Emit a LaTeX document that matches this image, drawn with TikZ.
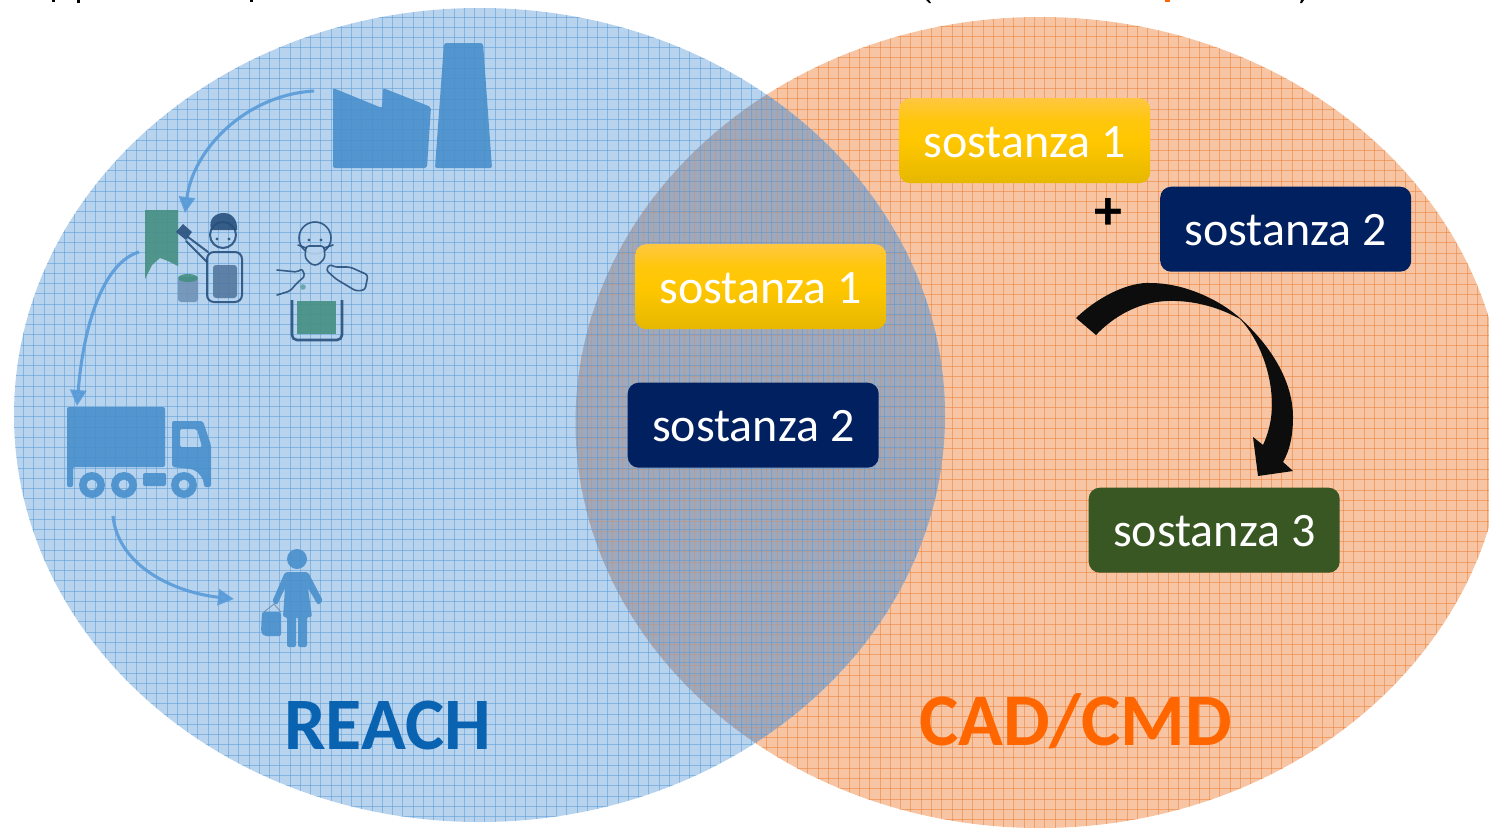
\documentclass[tikz,border=0pt]{standalone}
\usepackage{fontspec}
\setmainfont{Carlito}
\usetikzlibrary{arrows.meta}
\definecolor{bluefill}{RGB}{183,211,238}
\definecolor{orangefill}{RGB}{247,197,163}
\definecolor{overlapfill}{RGB}{160,168,188}
\definecolor{blueline}{RGB}{91,155,213}
\definecolor{orangeline}{RGB}{237,125,49}
\definecolor{iconblue}{RGB}{72,143,204}
\definecolor{arrowblue}{RGB}{88,155,216}
\definecolor{inkblue}{RGB}{40,80,125}
\definecolor{paintgreen}{RGB}{68,143,130}
\definecolor{navybox}{RGB}{0,32,96}
\definecolor{greenbox}{RGB}{56,87,35}
\definecolor{reachblue}{RGB}{10,99,176}
\definecolor{cadorange}{RGB}{255,102,0}
\pgfdeclareverticalshading{yellowbox}{100bp}{rgb(0bp)=(0.90,0.72,0); rgb(25bp)=(0.90,0.72,0); rgb(50bp)=(1,0.78,0); rgb(62bp)=(1,0.78,0.05); rgb(75bp)=(1,0.78,0.25); rgb(100bp)=(1,0.78,0.25)}
\tikzset{
  boxbase/.style={rounded corners=11pt,minimum width=251pt,inner xsep=0pt,inner ysep=0pt,text height=59pt,text depth=26pt,text=white,font=\fontsize{48}{48}\selectfont,anchor=north west},
  yellowsub/.style={boxbase,shading=yellowbox},
  navysub/.style={boxbase,fill=navybox},
  greensub/.style={boxbase,fill=greenbox},
  flow/.style={draw=arrowblue,line width=3.1pt,-{Triangle[width=16pt,length=16pt]}},
  iconfill/.style={fill=iconblue,rounded corners=2pt},
  ink/.style={draw=inkblue,line width=2pt,line cap=round,line join=round},
  thinink/.style={ink,line width=1.6pt},
  title/.style={font=\fontsize{74}{74}\selectfont\bfseries,anchor=base west,inner sep=0pt},
  bluegrid/.style={draw=blueline,line width=1pt,opacity=.55},
  orangegrid/.style={draw=orangeline,line width=1pt,opacity=.5},
  orangegridlow/.style={draw=orangeline,line width=1pt,opacity=.22},
}
\newcommand{\leftshape}{(479.5,415) ellipse [x radius=465.5,y radius=407]}
\newcommand{\rightshape}{(1040,422.5) ellipse [x radius=464.5,y radius=405.5]}
\begin{document}
\begin{tikzpicture}[x=1pt,y=-1pt]
\useasboundingbox (0,0) rectangle (1489,828);
\clip (0,0) rectangle (1489,828);
% base discs
\fill[orangefill] \rightshape;
\fill[bluefill] \leftshape;
% grids
\begin{scope}
  \clip \rightshape;
  \foreach \k in {0,...,90} {\draw[orangegrid] ({571+10.3*\k},0) -- ({571+10.3*\k},828);}
  \foreach \k in {0,...,80} {\draw[orangegrid] (560,{16.3+10.3*\k}) -- (1500,{16.3+10.3*\k});}
\end{scope}
\begin{scope}
  \clip \rightshape;
  \clip \leftshape;
  \fill[overlapfill] \rightshape;
  \foreach \k in {0,...,90} {\draw[orangegridlow] ({571+10.3*\k},0) -- ({571+10.3*\k},828);}
  \foreach \k in {0,...,80} {\draw[orangegridlow] (560,{16.3+10.3*\k}) -- (1500,{16.3+10.3*\k});}
\end{scope}
\begin{scope}
  \clip \leftshape;
  \foreach \k in {0,...,92} {\draw[bluegrid] ({13.25+10.25*\k},0) -- ({13.25+10.25*\k},828);}
  \foreach \k in {0,...,80} {\draw[bluegrid] (0,{6.95+10.25*\k}) -- (960,{6.95+10.25*\k});}
\end{scope}
% icons over the grid, slightly see-through
\begin{scope}[opacity=.9]
\fill[iconfill] (333,88) -- (382,108) -- (383,88) -- (431,107) -- (427,168) -- (333,168) -- cycle;
\fill[iconfill] (444,43) -- (483,43) -- (492,168) -- (435,168) -- cycle;
% truck
\fill[iconfill] (67,407) -- (165,407) -- (165,467) -- (73,467) -- (73,487) -- (67,487) -- cycle;
\fill[iconblue,even odd rule,rounded corners=2pt] (172,421) -- (203,421) -- (211,445) -- (211,487) -- (204,487) arc[start angle=0,end angle=-70,radius=19] -- (172,467) -- cycle (180,429) -- (197,429) -- (202,447) -- (180,447) -- cycle;
\fill[iconfill] (143,473) rectangle (166,486);
\fill[iconblue,even odd rule] (92,485) circle (13) (92,485) circle (5.5);
\fill[iconblue,even odd rule] (124,485) circle (13) (124,485) circle (5.5);
\fill[iconblue,even odd rule] (184,485) circle (13) (184,485) circle (5.5);
% shopper
\fill[iconblue] (297,559) circle (10);
\fill[iconfill] (285,572) -- (308,572) -- (323,601) -- (318,605) -- (308,588) -- (312,617) -- (307,617) -- (307,647) -- (298,647) -- (298,617) -- (296,617) -- (296,647) -- (287,647) -- (287,617) -- (283,617) -- (285,588) -- (277,605) -- (272,602) -- cycle;
\fill[iconfill] (262,612) -- (281,612) -- (281,636) -- (264,636) -- (261,632) -- cycle;
\draw[inkblue!70,line width=.8pt] (264,612) -- (274,604) -- (281,612);
% painter
\fill[paintgreen] (145,210) -- (178,210) -- (178,266) -- (168,261) -- (160,258) -- (152,265) -- (145,279) -- cycle;
\fill[inkblue] (176,232) -- (183,224) -- (192,232) -- (186,240) -- cycle;
\draw[ink] (188,237) -- (208,252);
\draw[ink] (186,241) -- (207,262);
\draw[ink] (223,235) circle (13);
\fill[inkblue] (211,230) .. controls (208,218) and (216,213) .. (224,213) .. controls (232,213) and (238,220) .. (237,230) -- cycle;
\fill[inkblue] (217,239) circle (1.6) (229,239) circle (1.6);
\draw[ink,rounded corners=7pt] (207,252) rectangle (242,302);
\fill[inkblue!70!bluefill,rounded corners=3pt] (213,265) rectangle (237,298);
\fill[inkblue!50!bluefill,rounded corners=3pt] (178,277) rectangle (198,302);
\fill[paintgreen] (188,278) ellipse [x radius=10,y radius=4];
% masked person
\draw[thinink] (315,238) circle (16);
\draw[thinink,fill=bluefill,rounded corners=3pt] (306,246) -- (324,246) -- (325,258) -- (318,265) -- (312,265) -- (305,258) -- cycle;
\draw[thinink] (306,248) -- (298,245) (324,248) -- (333,245);
\fill[inkblue] (309,240) circle (1.6) (321,240) circle (1.6);
\draw[thinink,rounded corners=2pt] (277,270) -- (297,272) -- (302,269) -- (305,276) -- (297,283) -- (290,291) -- (277,295);
\draw[thinink,rounded corners=3pt] (330,264) -- (334,267) -- (350,267) -- (368,275) -- (365,290) -- (356,291) -- (336,279) -- (326,270) -- cycle;
\fill[paintgreen!70!bluefill] (303,287) circle (2.8);
\fill[paintgreen] (297,301) rectangle (336,334);
\draw[ink,line width=2.6pt,line cap=butt,rounded corners=5pt] (292,300) -- (292,340) -- (342,340) -- (342,300);
% flow arrows
\coordinate (factoryOut) at (314,91);
\coordinate (painterIn) at (185,213);
\coordinate (painterOut) at (139,252);
\coordinate (truckIn) at (77,406);
\coordinate (truckOut) at (113,516);
\coordinate (shopperIn) at (234,599);
\draw[flow] (factoryOut) .. controls (245,95) and (193,150) .. (painterIn);
\draw[flow] (painterOut) .. controls (105,262) and (84,320) .. (truckIn);
\draw[flow] (truckOut) .. controls (118,565) and (172,592) .. (shopperIn);
\end{scope}
% black curved arrow
\fill[black!95] (1076,318) .. controls (1100,295) and (1130,282) .. (1150,283) .. controls (1185,283) and (1220,300) .. (1241,319) .. controls (1275,350) and (1293,385) .. (1293,417) .. controls (1293,435) and (1290,450) .. (1283,462) -- (1293,471) -- (1258,476) -- (1253,437) -- (1263,445) .. controls (1270,430) and (1272,415) .. (1272,405) .. controls (1272,375) and (1260,340) .. (1240,319) .. controls (1220,308) and (1195,300) .. (1167,301) .. controls (1140,302) and (1115,315) .. (1096,335) -- cycle;
% substance boxes
\node[yellowsub] (s1right) at (899,98) {sostanza 1};
\node[navysub] (s2right) at (1160,186.5) {sostanza 2};
\node[yellowsub] (s1mid) at (635,244) {sostanza 1};
\node[navysub] (s2mid) at (627.5,382.5) {sostanza 2};
\node[greensub] (s3right) at (1088.5,487.5) {sostanza 3};
\node[font=\fontsize{56}{56}\selectfont\bfseries,inner sep=0pt,anchor=base] (plus) at (1108,229) {+};
% titles
\node[title,text=reachblue] (reach) at (284,749) {REACH};
\node[title,text=cadorange] (cad) at (919,745) {CAD/CMD};
% cut-off text at the top edge
\fill (52,0) rectangle (55,1.5);
\fill (77,0) rectangle (80,3);
\fill (250,0) rectangle (253,1.5);
\fill (926,0) -- (929,0) -- (931,3) -- (929,3) -- cycle;
\fill[cadorange] (1165,0) rectangle (1170,2);
\fill (1301,0) -- (1304,0) -- (1302,3) -- (1300,3) -- cycle;
\end{tikzpicture}
\end{document}
